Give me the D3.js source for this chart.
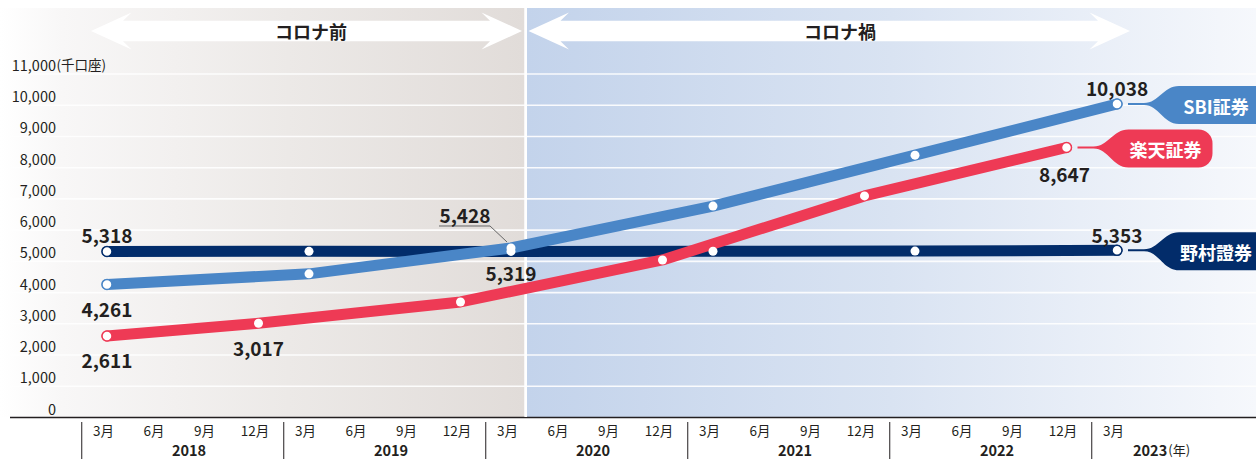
<!DOCTYPE html>
<html><head><meta charset="utf-8">
<script src="https://cdn.jsdelivr.net/npm/d3@7"></script>
<style>
html,body{margin:0;padding:0;background:#fff;}
svg{display:block;font-family:"Noto Sans CJK JP","Noto Sans",sans-serif;}
</style></head><body>
<svg id="chart" width="1256" height="459"></svg>
<script>
// ---------- data ----------
const quarters = ["2018-03","2018-06","2018-09","2018-12",
                  "2019-03","2019-06","2019-09","2019-12",
                  "2020-03","2020-06","2020-09","2020-12",
                  "2021-03","2021-06","2021-09","2021-12",
                  "2022-03","2022-06","2022-09","2022-12",
                  "2023-03"];
const monthLabels = {"03":"3月","06":"6月","09":"9月","12":"12月"};
const yearLabels = ["2018","2019","2020","2021","2022","2023"];
const yTicks = [0,1000,2000,3000,4000,5000,6000,7000,8000,9000,10000,11000];
const yUnit = "(千口座)";
const xUnit = "(年)";
const periodLabels = ["コロナ前","コロナ禍"];

const nomuraDates  = ["2018-03","2019-03","2020-03","2021-03","2022-03","2023-03"];
const nomuraValues = [5318, 5322, 5319, 5325, 5330, 5353];
const sbiDates     = ["2018-03","2019-03","2020-03","2021-03","2022-03","2023-03"];
const sbiValues    = [4261, 4600, 5428, 6770, 8400, 10038];
const rakutenDates = ["2018-03","2018-12","2019-12","2020-12","2021-12","2022-12"];
const rakutenValues= [2611, 3017, 3700, 5045, 7095, 8647];
const seriesNames  = ["野村證券","SBI証券","楽天証券"];

// ---------- setup ----------
const svg = d3.select("#chart");
const W = 1256;
const x = d3.scalePoint().domain(quarters).range([107, 1117]);
const y = d3.scaleLinear().domain([0, 11000]).range([417.5, 74]);
const fmt = d3.format(",");

const defs = svg.append("defs");
const gL = defs.append("linearGradient").attr("id","gPre").attr("x1","0").attr("x2","1").attr("y1","0").attr("y2","0");
gL.append("stop").attr("offset","0").attr("stop-color","#ffffff");
gL.append("stop").attr("offset","0.12").attr("stop-color","#f8f7f7");
gL.append("stop").attr("offset","0.55").attr("stop-color","#ece9e7");
gL.append("stop").attr("offset","1").attr("stop-color","#e1dcd9");
const gR = defs.append("linearGradient").attr("id","gPost").attr("x1","0").attr("x2","1").attr("y1","0").attr("y2","0");
gR.append("stop").attr("offset","0").attr("stop-color","#c3d3eb");
gR.append("stop").attr("offset","0.5").attr("stop-color","#d9e3f2");
gR.append("stop").attr("offset","1").attr("stop-color","#f6f8fc");

const bgTop = 8, bgBase = 417;
const divX = 525.5;
svg.append("rect").attr("x",0).attr("y",bgTop).attr("width",divX-1).attr("height",bgBase-bgTop).attr("fill","url(#gPre)");
svg.append("rect").attr("x",divX+1.5).attr("y",bgTop).attr("width",W-divX-1.5).attr("height",bgBase-bgTop).attr("fill","url(#gPost)");

// gridlines
svg.append("g").selectAll("line").data(yTicks.filter(d=>d>0)).join("line")
  .attr("x1",10).attr("x2",W).attr("y1",d=>y(d)).attr("y2",d=>y(d))
  .attr("stroke","#ffffff").attr("stroke-width",1.6).attr("opacity",0.9);

// arrows
function arrowPath(x0,x1,yc){
  const hw=40.5, inner=32, sh=10.2, hh=18.5;
  return `M${x0},${yc} L${x0+hw},${yc-hh} L${x0+inner},${yc-sh} L${x1-inner},${yc-sh} L${x1-hw},${yc-hh} L${x1},${yc} L${x1-hw},${yc+hh} L${x1-inner},${yc+sh} L${x0+inner},${yc+sh} L${x0+hw},${yc+hh} Z`;
}
svg.append("path").attr("d",arrowPath(91,522,31)).attr("fill","#ffffff");
svg.append("path").attr("d",arrowPath(528.5,1130,31)).attr("fill","#ffffff");
svg.append("text").attr("x",311).attr("y",31).attr("text-anchor","middle").attr("dominant-baseline","central")
  .attr("font-size",18).attr("font-weight","bold").attr("fill","#231f20").text(periodLabels[0]);
svg.append("text").attr("x",840).attr("y",31).attr("text-anchor","middle").attr("dominant-baseline","central")
  .attr("font-size",18).attr("font-weight","bold").attr("fill","#231f20").text(periodLabels[1]);

// y axis
const yAxis = svg.append("g").attr("transform","translate(56,0)")
  .call(d3.axisLeft(y).tickValues(yTicks).tickSize(0).tickPadding(0).tickFormat(fmt));
yAxis.select(".domain").remove();
yAxis.selectAll("text").attr("font-size",14.5).attr("fill","#231f20").attr("dy",null)
  .attr("dominant-baseline","central").attr("y",-10).attr("font-family",'"Noto Sans CJK JP",sans-serif');
svg.append("text").attr("x",56.5).attr("y",y(11000)-10).attr("dominant-baseline","central")
  .attr("font-size",13.5).attr("fill","#231f20").text(yUnit);

// x axis line
svg.append("line").attr("x1",10).attr("x2",W).attr("y1",417.5).attr("y2",417.5).attr("stroke","#231f20").attr("stroke-width",1.5);

// month labels via axis
const xAxis = svg.append("g").attr("transform","translate(0,430)")
  .call(d3.axisBottom(x).tickSize(0).tickPadding(0).tickFormat(d=>monthLabels[d.slice(5)]));
xAxis.select(".domain").remove();
xAxis.selectAll("text").attr("font-size",13.5).attr("fill","#231f20").attr("y",0).attr("dy",null)
  .attr("dominant-baseline","central").attr("x",-4).attr("font-family",'"Noto Sans CJK JP",sans-serif');

// year separators & labels
const qStep = x.step();
yearLabels.forEach((yr,i)=>{
  const xs = x(yr+"-03") - qStep/2;
  svg.append("line").attr("x1",xs).attr("x2",xs).attr("y1",422).attr("y2",459).attr("stroke","#231f20").attr("stroke-width",1);
  if (i < yearLabels.length-1) {
    svg.append("text").attr("x",x(yr+"-03")+82).attr("y",449).attr("text-anchor","middle").attr("dominant-baseline","central")
      .attr("font-size",14.5).attr("font-weight","bold").attr("fill","#231f20").text(yr);
  } else {
    const t = svg.append("text").attr("x",x(yr+"-03")+16).attr("y",449).attr("dominant-baseline","central")
      .attr("font-size",14.5).attr("font-weight","bold").attr("fill","#231f20");
    t.append("tspan").text(yr);
    t.append("tspan").attr("dx",1).attr("font-size",13).attr("font-weight","normal").text(xUnit);
  }
});

// divider
svg.append("rect").attr("x",divX-1).attr("y",bgTop).attr("width",2.5).attr("height",bgBase-bgTop).attr("fill","#ffffff");

// series
const series = [
  {name:seriesNames[0], dates:nomuraDates, values:nomuraValues, color:"#022c6a"},
  {name:seriesNames[1], dates:sbiDates, values:sbiValues, color:"#4a86c7"},
  {name:seriesNames[2], dates:rakutenDates, values:rakutenValues, color:"#ee3a55"}
];
const line = d3.line().x(d=>x(d[0])).y(d=>y(d[1]));
series.forEach(s=>{
  s.pts = s.dates.map((d,i)=>[d,s.values[i]]);
  svg.append("path").attr("d",line(s.pts)).attr("fill","none").attr("stroke",s.color)
    .attr("stroke-width",11).attr("stroke-linecap","round").attr("stroke-linejoin","round");
});
series.forEach(s=>{
  svg.append("g").selectAll("circle").data(s.pts).join("circle")
    .attr("cx",d=>x(d[0])).attr("cy",d=>y(d[1]))
    .attr("r",(d,i)=> (i===0||i===s.pts.length-1)?5:4.5)
    .attr("fill","#ffffff")
    .attr("stroke",(d,i)=> (i===0||i===s.pts.length-1)?s.color:"none").attr("stroke-width",1.5);
});

// value labels
const lbl = [
  {s:0,i:0,dx:0,dy:-17},{s:0,i:2,dx:0,dy:21},{s:0,i:5,dx:0,dy:-16},
  {s:1,i:0,dx:0,dy:24},{s:1,i:2,dx:-46,dy:-33},{s:1,i:5,dx:0,dy:-17},
  {s:2,i:0,dx:0,dy:24},{s:2,i:1,dx:0,dy:24},{s:2,i:5,dx:-2,dy:26}
];
// leader for SBI 2020
{
  const p = series[1].pts[2];
  const px = x(p[0]), py = y(p[1]);
  svg.append("path").attr("d",`M${px-72},${py-22} L${px-21},${py-22} L${px-4},${py-6}`)
    .attr("fill","none").attr("stroke","#666").attr("stroke-width",1);
}
lbl.forEach(l=>{
  const p = series[l.s].pts[l.i];
  svg.append("text").attr("x",x(p[0])+l.dx).attr("y",y(p[1])+l.dy)
    .attr("text-anchor","middle").attr("dominant-baseline","central")
    .attr("font-size",19).attr("font-weight","bold").attr("fill","#231f20").text(fmt(p[1]));
});

// callouts
function callout(s, right, rR){
  const p = s.pts[s.pts.length-1];
  const px = x(p[0]), py = y(p[1]);
  const tx = px+11, bl = px+52, t = py-18, b = py+20;
  const d = `M${tx},${py-1} L${bl-25},${py-1} C${bl-10},${py-1} ${bl-6},${t} ${bl+10},${t}
    L${right-rR},${t} A${rR},${rR} 0 0 1 ${right},${t+rR} L${right},${b-rR} A${rR},${rR} 0 0 1 ${right-rR},${b}
    L${bl+10},${b} C${bl-6},${b} ${bl-10},${py+1} ${bl-25},${py+1} L${tx},${py+1} Z`;
  svg.append("path").attr("d",d).attr("fill",s.color);
  svg.append("text").attr("x",px+99).attr("y",py+1.5).attr("text-anchor","middle").attr("dominant-baseline","central")
    .attr("font-size",18).attr("font-weight","bold").attr("fill","#ffffff").text(s.name);
}
callout(series[1], 1290, 12);
callout(series[2], x("2022-12")+146, 14);
callout(series[0], 1290, 12);
</script>
</body></html>
